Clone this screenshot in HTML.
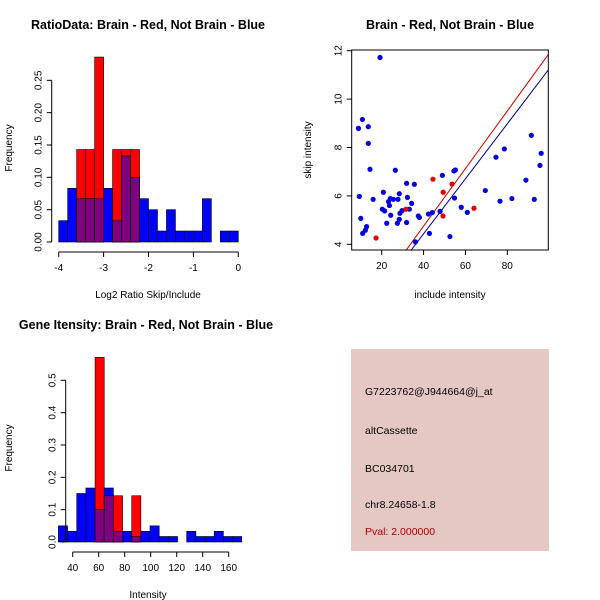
<!DOCTYPE html>
<html><head><meta charset="utf-8"><style>
body{margin:0;background:#fff}
svg{display:block;font-family:"Liberation Sans",sans-serif}
</style></head><body>
<svg id="chart" width="600" height="600" viewBox="0 0 600 600" xmlns="http://www.w3.org/2000/svg">
<rect width="600" height="600" fill="#fff"/>
<text x="148" y="29" text-anchor="middle" font-size="12.5" font-weight="bold">RatioData: Brain - Red, Not Brain - Blue</text>
<text x="450" y="29" text-anchor="middle" font-size="12.5" font-weight="bold">Brain - Red, Not Brain - Blue</text>
<text x="146" y="329" text-anchor="middle" font-size="12.5" font-weight="bold">Gene Itensity: Brain - Red, Not Brain - Blue</text>
<g id="g1"></g><g id="g2"></g><g id="g3"></g>
<g>
<rect x="351" y="349" width="198" height="202" fill="#e5c8c2"/>
<text x="365" y="395" font-size="10.5">G7223762@J944664@j_at</text>
<text x="365" y="434" font-size="10.5">altCassette</text>
<text x="365" y="472" font-size="10.5">BC034701</text>
<text x="365" y="508" font-size="10.5">chr8.24658-1.8</text>
<text x="365" y="535" font-size="10.5" fill="#b00000">Pval: 2.000000</text>
</g>
</svg>
<script>
// ---- data: ratio histogram ----
const ratioBinStart = -4;
const ratioBinWidth = 0.2;
const ratioBlue = [0.033,0.083,0.067,0.067,0.067,0.083,0.033,0.133,0.1,0.067,0.05,0.017,0.05,0.017,0.017,0.017,0.067,0,0.017,0.017];
const ratioRed  = [0,0,0.143,0.143,0.286,0,0.143,0.143,0.143,0,0,0,0,0,0,0,0,0,0,0];
const ratioXTicks = [-4,-3,-2,-1,0];
const ratioYTicks = ["0.00","0.05","0.10","0.15","0.20","0.25"];
// ---- data: intensity histogram ----
const intBinStart = 29;
const intBinWidth = 7.05;
const intBlue = [0.05,0.033,0.15,0.167,0.1,0.167,0.033,0.033,0.017,0.033,0.05,0.017,0.017,0,0.033,0.017,0.017,0.033,0.017,0.017];
const intRed  = [0,0,0,0,0.571,0.143,0.143,0,0.143,0,0,0,0,0,0,0,0,0,0,0];
const intXTicks = [40,60,80,100,120,140,160];
const intYTicks = ["0.0","0.1","0.2","0.3","0.4","0.5"];
// ---- data: scatter ----
const blueX = [19.2,10.8,8.9,13.6,13.6,14.4,9.3,15.9,10.0,10.9,12.2,12.8,20.8,20.3,21.4,22.4,23.2,23.7,24.1,24.3,25.6,26.5,27.8,28.4,27.5,28.4,28.7,29.7,31.9,32.3,31.9,33.2,34.3,35.6,36.1,37.5,38.0,42.3,42.8,44.2,47.9,49.0,52.6,54.5,55.2,54.8,58.0,60.9,69.5,74.6,76.5,78.6,82.2,88.9,91.5,92.9,95.6,96.2];
const blueY = [11.72,9.16,8.79,8.86,8.17,7.10,5.98,5.86,5.07,4.45,4.58,4.73,6.15,5.45,5.38,4.87,5.76,5.6,5.89,5.2,5.86,7.06,5.86,6.09,4.87,5.03,5.28,5.39,6.52,5.94,4.9,5.45,5.69,6.48,4.1,5.17,5.11,5.25,4.45,5.31,5.36,6.85,4.32,7.03,7.07,5.91,5.53,5.32,6.22,7.6,5.78,7.94,5.89,6.65,8.5,5.86,7.26,7.76];
const redX = [17.3,31.6,44.5,49.4,49.3,53.6,64.1];
const redY = [4.26,5.45,6.69,6.15,5.17,6.49,5.49];
const redLine = [0.119,-0.01];   // slope, intercept
const blueLine = [0.1136,-0.11];
const scatterXTicks = [20,40,60,80];
const scatterYTicks = [4,6,8,10,12];

const NS="http://www.w3.org/2000/svg";
function mk(parent,tag,attrs){const e=document.createElementNS(NS,tag);for(const k in attrs)e.setAttribute(k,attrs[k]);parent.appendChild(e);return e;}
function txt(parent,x,y,s,size,extra){const t=mk(parent,"text",Object.assign({x:x,y:y,"font-size":size,"text-anchor":"middle"},extra||{}));t.textContent=s;return t;}

function hist(g,o){
  const sx=v=>o.x0+(v-o.xv0)*o.kx, sy=v=>o.y0-v*o.ky;
  for(let i=0;i<o.blue.length;i++){
    const a=o.start+i*o.w,b=a+o.w,x=sx(a),w=sx(b)-x;
    const bl=o.blue[i],rd=o.red[i],mn=Math.min(bl,rd);
    if(bl>0){const r=mk(g,"rect",{x:x,y:sy(bl),width:w,height:sy(0)-sy(bl),fill:"#0000ff",stroke:"#000","stroke-width":0.6});
      
      }
    if(rd>0){const r=mk(g,"rect",{x:x,y:sy(rd),width:w,height:sy(0)-sy(rd),fill:"#ff0000",stroke:"#000","stroke-width":0.6});
      
      }
    if(mn>0){const r=mk(g,"rect",{x:x,y:sy(mn),width:w,height:sy(0)-sy(mn),fill:"#800080",stroke:"#000","stroke-width":0.6});
      
      }
  }
  const xa=mk(g,"g",{});
  
  
  const t0=o.xt[0],t1=o.xt[o.xt.length-1],ay=o.y0+10;
  mk(xa,"line",{x1:sx(t0),x2:sx(t1),y1:ay,y2:ay,stroke:"#000"});
  o.xt.forEach(t=>{mk(xa,"line",{x1:sx(t),x2:sx(t),y1:ay,y2:ay+5,stroke:"#000"});
    const l=txt(xa,sx(t),ay+19,String(t),10);
    
    });
  const xl=txt(g,o.xlabX,o.y0+56,o.xlab,10);
  
  
  const ya=mk(g,"g",{});
  
  
  const ax=o.x0-7;
  mk(ya,"line",{x1:ax,x2:ax,y1:sy(0),y2:sy(parseFloat(o.yt[o.yt.length-1])),stroke:"#000"});
  o.yt.forEach(s=>{const v=parseFloat(s),y=sy(v);mk(ya,"line",{x1:ax-5,x2:ax,y1:y,y2:y,stroke:"#000"});
    const l=txt(ya,ax-10,y,s,10,{transform:`rotate(-90 ${ax-10} ${y})`});
    
    });
  const yl=txt(g,12,o.ylabY,"Frequency",10,{transform:`rotate(-90 12 ${o.ylabY})`});
  
  
}
const g1=document.getElementById("g1");


hist(g1,{start:ratioBinStart,w:ratioBinWidth,blue:ratioBlue,red:ratioRed,xv0:-4,x0:58.7,kx:44.9,y0:242,ky:646.7,xt:ratioXTicks,yt:ratioYTicks,xlab:"Log2 Ratio Skip/Include",xlabX:148,ylabY:148});
const g3=document.getElementById("g3");


hist(g3,{start:intBinStart,w:intBinWidth,blue:intBlue,red:intRed,xv0:40,x0:72.7,kx:1.3,y0:542,ky:323.4,xt:intXTicks,yt:intYTicks,xlab:"Intensity",xlabX:148,ylabY:448});

const g2=document.getElementById("g2");


const L=351.7,R=548.3,T=50,B=250;
const sx=v=>381.7+(v-20)*2.093, sy=v=>244.3-(v-4)*24.2;
mk(g2,"defs",{}).innerHTML='<clipPath id="cp"><rect x="'+L+'" y="'+T+'" width="'+(R-L)+'" height="'+(B-T)+'"/></clipPath>';
const lines=mk(g2,"g",{"clip-path":"url(#cp)"});
[[redLine,"#cc0000","red-fit-line"],[blueLine,"#00008b","blue-fit-line"]].forEach(([p,c,n])=>{
  const xa=0,xb=110;
  const l=mk(lines,"line",{x1:sx(xa),y1:sy(p[0]*xa+p[1]),x2:sx(xb),y2:sy(p[0]*xb+p[1]),stroke:c,"stroke-width":1});
  
  
});
blueX.forEach((x,i)=>{const c=mk(g2,"circle",{cx:sx(x),cy:sy(blueY[i]),r:2.6,fill:"#0000dd"});
  
  });
redX.forEach((x,i)=>{const c=mk(g2,"circle",{cx:sx(x),cy:sy(redY[i]),r:2.6,fill:"#e00000"});
  
  });
mk(g2,"rect",{x:L,y:T,width:R-L,height:B-T,fill:"none",stroke:"#000"});
scatterXTicks.forEach(t=>{mk(g2,"line",{x1:sx(t),x2:sx(t),y1:B,y2:B+5,stroke:"#000"});
  const l=txt(g2,sx(t),B+19,String(t),10);
  
  });
scatterYTicks.forEach(t=>{const y=sy(t);mk(g2,"line",{x1:L-5,x2:L,y1:y,y2:y,stroke:"#000"});
  const l=txt(g2,L-10,y,String(t),10,{transform:`rotate(-90 ${L-10} ${y})`});
  
  });
const sxl=txt(g2,450,298,"include intensity",10);


const syl=txt(g2,311,150,"skip intensity",10,{transform:"rotate(-90 311 150)"});


</script>
</body></html>
